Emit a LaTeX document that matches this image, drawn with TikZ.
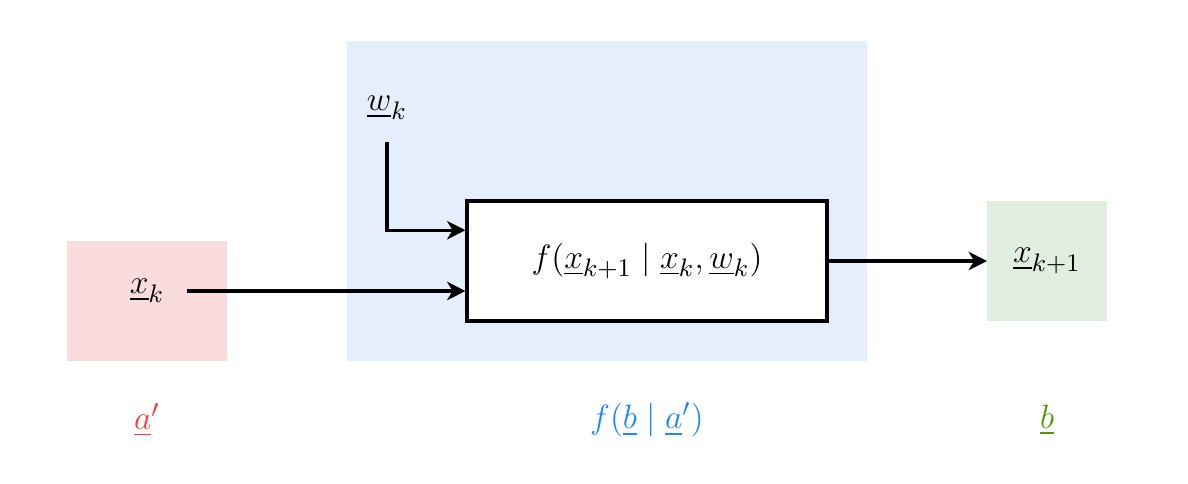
\documentclass[tikz,border=0pt]{standalone}
\usepackage{amsmath}
\usepackage{amssymb}
\usepackage{xcolor}
\usepackage{tikz}
\usetikzlibrary{arrows.meta,calc,positioning}
\definecolor{priorfill}{HTML}{F9DCDB}
\definecolor{transfill}{HTML}{E4EEFC}
\definecolor{postfill}{HTML}{DFEEDF}
\definecolor{priorlbl}{HTML}{FF3B3B}
\definecolor{translbl}{HTML}{1E88FF}
\definecolor{postlbl}{HTML}{4E9A06}
\newcommand{\uvec}[1]{\underline{#1}}
\newcommand{\figfont}{\fontsize{13}{15}\selectfont}
\tikzset{
  region/.style={inner sep=0pt, outer sep=0pt, align=center, font=\figfont},
  model/.style={draw, line width=1.1pt, fill=white, minimum width=4.5cm, minimum height=1.5cm, inner sep=0pt, align=center, font=\figfont},
  sig/.style={-{Stealth[length=2.3mm, width=2.3mm, inset=0.7mm]}, line width=1.1pt, black},
  caption/.style={inner sep=0pt, font=\figfont}
}
\begin{document}
\begin{tikzpicture}[x=0.5cm,y=0.5cm]
  \useasboundingbox (-0.675,0.025) rectangle (29.025,-12.05);
  % shaded areas
  \node[region, fill=transfill, minimum width=6.5cm, minimum height=4cm] (trans) at (14.5,-5) {};
  \node[region, fill=priorfill, minimum width=2cm, minimum height=1.5cm] (prior) at (3,-7.5) {};
  \node[region, fill=postfill, minimum width=1.5cm, minimum height=1.5cm] (post) at (25.5,-6.5) {$\uvec{x}_{k+1}$};

  \node[region, minimum width=1cm] (xk) at (3,-7.25) {$\uvec{x}_k$};
  \node[region, anchor=south, minimum height=0.85cm] (wk) at (9,-3.525) {$\uvec{w}_k$};
  \node[model] (dens) at (15.5,-6.5) {$f(\uvec{x}_{k+1} \mid \uvec{x}_k, \uvec{w}_k)$};

  \draw[sig] (xk.east) -- (dens.west |- xk.east);
  \draw[sig] (wk.south) |- ($(dens.north west)!0.25!(dens.south west)$);
  \draw[sig] (dens.east) -- (post.west);

  % labels below
  \node[caption, text=priorlbl] (aprime) at (3,-10.475) {$\uvec{a}'$};
  \node[caption, text=translbl] (cond) at (15.5,-10.475) {$f(\uvec{b} \mid \uvec{a}')$};
  \node[caption, text=postlbl] (bvar) at (25.5,-10.475) {$\uvec{b}$};
\end{tikzpicture}
\end{document}
